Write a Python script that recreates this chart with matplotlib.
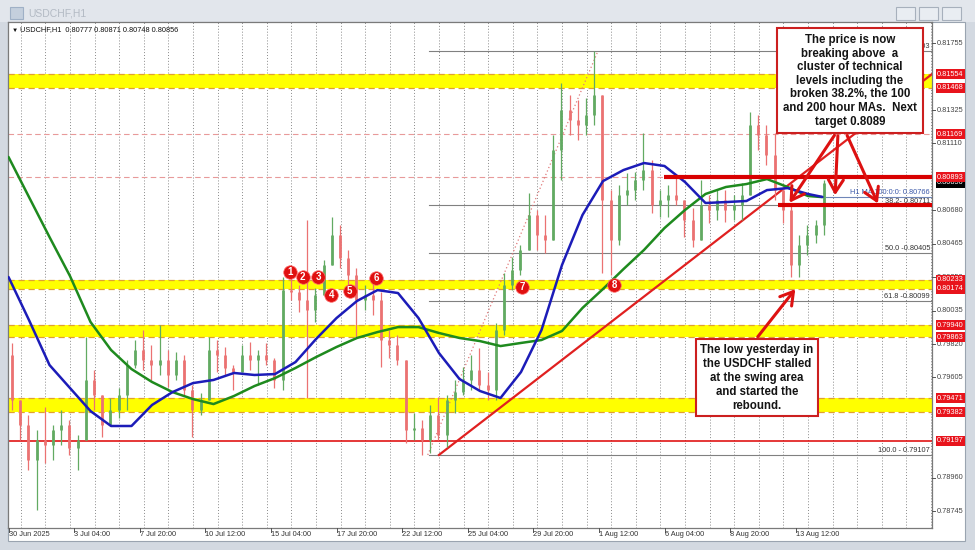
import matplotlib
matplotlib.use('Agg')
import matplotlib.pyplot as plt
from matplotlib.patches import Rectangle, FancyArrowPatch
import matplotlib.transforms as mtransforms
import numpy as np

plt.rcParams['font.family'] = ['Liberation Sans', 'DejaVu Sans']

W, H = 975, 550

# ---------------- data ----------------
symbol_line = "USDCHF,H1  0.80777 0.80871 0.80748 0.80856"
candle_hours = 8
open_first = 0.79749
highs = [0.79827, 0.79460, 0.79364, 0.79267, 0.79415, 0.79299, 0.79396, 0.79331, 0.79235, 0.79865,
         0.79653, 0.79460, 0.79473, 0.79537, 0.79717, 0.79846, 0.79910, 0.79814, 0.79942, 0.79782,
         0.79769, 0.79749, 0.79556, 0.79505, 0.79865, 0.79846, 0.79801, 0.79685, 0.79814, 0.79833,
         0.79782, 0.79827, 0.79730, 0.80251, 0.80245, 0.80199, 0.80617, 0.80180, 0.80360, 0.80637,
         0.80585, 0.80425, 0.80309, 0.80199, 0.80232, 0.80154, 0.79910, 0.79878, 0.79717, 0.79376,
         0.79331, 0.79428, 0.79479, 0.79492, 0.79589, 0.79672, 0.79749, 0.79794, 0.79640, 0.79955,
         0.80277, 0.80380, 0.80457, 0.80791, 0.80682, 0.80650, 0.81164, 0.81498, 0.81421, 0.81389,
         0.81402, 0.81703, 0.81421, 0.80810, 0.80842, 0.80920, 0.80926, 0.81177, 0.81003, 0.80810,
         0.80842, 0.80894, 0.80746, 0.80695, 0.80875, 0.80778, 0.80810, 0.80810, 0.80778, 0.80855,
         0.81312, 0.81293, 0.81228, 0.81177, 0.80842, 0.80714, 0.80521, 0.80585, 0.80617, 0.80875]
lows = [0.79396, 0.79203, 0.79010, 0.78753, 0.79055, 0.79074, 0.79171, 0.79106, 0.79010, 0.79203,
        0.79396, 0.79222, 0.79299, 0.79344, 0.79396, 0.79666, 0.79653, 0.79589, 0.79621, 0.79544,
        0.79589, 0.79492, 0.79222, 0.79364, 0.79460, 0.79640, 0.79621, 0.79524, 0.79640, 0.79653,
        0.79556, 0.79685, 0.79537, 0.79524, 0.80103, 0.80026, 0.79473, 0.79962, 0.80135, 0.80328,
        0.80309, 0.80199, 0.79865, 0.80039, 0.80007, 0.79672, 0.79730, 0.79685, 0.79184, 0.79203,
        0.79107, 0.79119, 0.79203, 0.79158, 0.79376, 0.79492, 0.79524, 0.79524, 0.79460, 0.79460,
        0.79878, 0.80167, 0.80264, 0.80425, 0.80425, 0.80405, 0.80489, 0.80875, 0.81164, 0.81132,
        0.81164, 0.81228, 0.80277, 0.80264, 0.80457, 0.80714, 0.80746, 0.80810, 0.80662, 0.80637,
        0.80637, 0.80714, 0.80508, 0.80444, 0.80489, 0.80598, 0.80617, 0.80605, 0.80617, 0.80617,
        0.80778, 0.81068, 0.80971, 0.80746, 0.80598, 0.80251, 0.80251, 0.80392, 0.80470, 0.80521]
closes = [0.79460, 0.79299, 0.79074, 0.79203, 0.79171, 0.79267, 0.79299, 0.79151, 0.79203, 0.79589,
          0.79492, 0.79299, 0.79396, 0.79492, 0.79685, 0.79782, 0.79717, 0.79685, 0.79717, 0.79621,
          0.79717, 0.79524, 0.79396, 0.79460, 0.79782, 0.79749, 0.79666, 0.79640, 0.79749, 0.79717,
          0.79749, 0.79717, 0.79589, 0.80167, 0.80154, 0.80103, 0.80039, 0.80135, 0.80328, 0.80521,
          0.80373, 0.80264, 0.80103, 0.80135, 0.80103, 0.79846, 0.79814, 0.79717, 0.79267, 0.79280,
          0.79203, 0.79364, 0.79235, 0.79460, 0.79511, 0.79589, 0.79653, 0.79556, 0.79524, 0.79910,
          0.80199, 0.80296, 0.80425, 0.80650, 0.80521, 0.80489, 0.81068, 0.81325, 0.81260, 0.81228,
          0.81293, 0.81421, 0.80746, 0.80489, 0.80778, 0.80810, 0.80875, 0.80939, 0.80714, 0.80746,
          0.80778, 0.80746, 0.80617, 0.80489, 0.80714, 0.80682, 0.80746, 0.80682, 0.80714, 0.80778,
          0.81228, 0.81164, 0.81035, 0.80810, 0.80682, 0.80328, 0.80457, 0.80521, 0.80585, 0.80856]

ma_index = [0, 20, 40, 60, 80, 100, 120, 140, 160, 180, 200, 220, 240, 260, 280, 300, 320, 340, 360, 380,
            400, 420, 440, 460, 480, 500, 520, 540, 560, 580, 600, 620, 640, 660, 680, 700, 720, 740, 760, 780, 794]
ma100 = [0.80251, 0.79974, 0.79685, 0.79537, 0.79389, 0.79293, 0.79293, 0.79428, 0.79511, 0.79569,
         0.79589, 0.79634, 0.79621, 0.79627, 0.79704, 0.79852, 0.79987, 0.80097, 0.80167, 0.80148,
         0.79987, 0.79762, 0.79595, 0.79518, 0.79473, 0.79640, 0.79910, 0.80328, 0.80650, 0.80868,
         0.80939, 0.80984, 0.80965, 0.80862, 0.80727, 0.80733, 0.80740, 0.80810, 0.80823, 0.80785, 0.80766]
ma200 = [0.81023, 0.80765, 0.80508, 0.80257, 0.79962, 0.79782, 0.79659, 0.79576, 0.79511, 0.79466,
         0.79434, 0.79486, 0.79550, 0.79601, 0.79666, 0.79736, 0.79801, 0.79859, 0.79897, 0.79929,
         0.79929, 0.79891, 0.79859, 0.79839, 0.79807, 0.79827, 0.79846, 0.79904, 0.80052, 0.80174,
         0.80302, 0.80425, 0.80566, 0.80682, 0.80785, 0.80830, 0.80849, 0.80881, 0.80830, 0.80772, 0.80765]

time_labels = ["30 Jun 2025", "3 Jul 04:00", "7 Jul 20:00", "10 Jul 12:00", "15 Jul 04:00",
               "17 Jul 20:00", "22 Jul 12:00", "25 Jul 04:00", "29 Jul 20:00", "1 Aug 12:00",
               "6 Aug 04:00", "8 Aug 20:00", "13 Aug 12:00"]
time_label_index = [0, 64, 128, 192, 256, 320, 384, 448, 512, 576, 640, 704, 768]

# price scale ticks that remain visible beside the red level labels
price_ticks = [0.78745, 0.78960, 0.79605, 0.79820, 0.80035, 0.80250,
               0.80465, 0.80680, 0.81110, 0.81325, 0.81755]

yellow_bands = [(0.81468, 0.81554), (0.80174, 0.80233), (0.79863, 0.79940), (0.79382, 0.79471)]
red_labels = [0.81554, 0.81468, 0.81169, 0.80893, 0.80233, 0.80174, 0.79940, 0.79863,
              0.79471, 0.79382, 0.79197]
support_line = 0.79197
dashed_levels = [0.81169, 0.80893]
current_price = 0.80856
ma100_last = 0.80766

fib_values = [0.81703, 0.80711, 0.80405, 0.80099, 0.79107]
fib_label_fmt = ["0.0 - {:.5f}", "38.2- {:.5f}", "50.0 -{:.5f}", "61.8 -{:.5f}", "100.0 - {:.5f}"]
fib_start_index = 410
fib_high_index = 575
fib_low_index = 409

trend_start = (420, 0.79107)
trend_end = (901, 0.81556)
thick_levels = [(640, 0.80893), (751, 0.80711)]

marker_nums = ["1", "2", "3", "4", "5", "6", "7", "8"]
marker_index = [275, 287, 302, 315, 333, 359, 501, 591]
marker_price = [0.80283, 0.80251, 0.80251, 0.80135, 0.80161, 0.80245, 0.80187, 0.80199]

box1_lines = ["The price is now", "breaking above  a", "cluster of technical",
              "levels including the", "broken 38.2%, the 100", "and 200 hour MAs.  Next",
              "target 0.8089"]
box2_lines = ["The low yesterday in", "the USDCHF stalled", "at the swing area",
              "and started the", "rebound."]

# ---------------- figure ----------------
fig = plt.figure(figsize=(W / 100, H / 100), dpi=100)
fig.patch.set_facecolor('#d3d9e1')


def F(X, Y):
    return (X / W, 1 - Y / H)


TF = fig.transFigure
SMALL = 5.3
fig.add_artist(Rectangle(F(0, 22), 1, 22 / H, transform=TF, fc='#e2e6ec', ec='none', zorder=-3))
fig.add_artist(Rectangle(F(8, 541), 957 / W, 519 / H, transform=TF, fc='white', ec='#9aa4b0', lw=0.8, zorder=-1))
fig.add_artist(Rectangle(F(10, 19), 13 / W, 12 / H, transform=TF, fc='#c4cfdd', ec='#9fb0c6', lw=0.8, zorder=-1))
fig.text(*F(28, 13), "USDCHF,H1", fontsize=7.5, color='#b3bac4', va='center', ha='left')
for bx in (896, 919, 942):
    fig.add_artist(Rectangle(F(bx, 20), 19 / W, 13 / H, transform=TF, fc='#e9edf2', ec='#a7b0bc', lw=0.8, zorder=-1))

ax = fig.add_axes([8 / W, 1 - 528 / H, 924 / W, 506 / H])
ax.set_xlim(-0.5, 901)
ax.set_ylim(0.78637, 0.81891)
ax.set_xticks([])
ax.set_yticks([])
for s in ax.spines.values():
    s.set_color('#7a7a7a')
    s.set_linewidth(0.9)

for i in range(12, 901, 24):
    ax.axvline(i, color='#8a8a8a', ls=(0, (1, 2)), lw=0.7, zorder=0.5)

for lo, hi in yellow_bands:
    ax.axhspan(lo, hi, color='#ffff00', zorder=1, lw=0)
    for v in (lo, hi):
        ax.axhline(v, color='#e0a030', ls=(0, (5, 3)), lw=0.9, zorder=1.1)

ax.axhline(support_line, color='#e01515', lw=1.2, zorder=1.2)
for v in dashed_levels:
    ax.axhline(v, color='#e89a9a', ls=(0, (5, 3)), lw=0.8, zorder=1.2)

for v in fib_values:
    ax.plot([fib_start_index, 901], [v, v], color='#808080', lw=0.8, zorder=1.3)
ax.plot([fib_low_index, fib_high_index], [fib_values[-1], fib_values[0]], color='#e07a7a',
        ls=(0, (1, 2)), lw=0.9, zorder=1.3)
ytr = mtransforms.blended_transform_factory(ax.transAxes, ax.transData)
for fmt, v in zip(fib_label_fmt, fib_values):
    ax.text((930 - 8) / 924, v + 0.00005, fmt.format(v), transform=ytr, ha='right', va='bottom',
            fontsize=SMALL, color='#333333', zorder=2)

ax.plot([trend_start[0], trend_end[0]], [trend_start[1], trend_end[1]], color='#e02020', lw=1.6, zorder=2)

# candles
opens = [open_first] + closes[:-1]
n = len(closes)
xs = np.arange(n) * candle_hours + (candle_hours - 1) / 2
up_c, dn_c = '#62aa62', '#eb7272'
cols = [up_c if c >= o else dn_c for o, c in zip(opens, closes)]
hi_ = [max(h, o, c) for h, o, c in zip(highs, opens, closes)]
lo_ = [min(l, o, c) for l, o, c in zip(lows, opens, closes)]
ax.vlines(xs, lo_, hi_, colors=cols, lw=0.9, zorder=3)
b_lo = [min(o, c) - 0.00002 for o, c in zip(opens, closes)]
b_hi = [max(o, c) + 0.00002 for o, c in zip(opens, closes)]
ax.vlines(xs, b_lo, b_hi, colors=cols, lw=2.0, zorder=3)

ax.plot(ma_index, ma200, color='#1e8a1e', lw=1.8, zorder=4, solid_capstyle='round')
ax.plot(ma_index, ma100, color='#1c1cb8', lw=1.8, zorder=4, solid_capstyle='round')
ax.plot([ma_index[-1] + 4, 900], [ma100_last, ma100_last], color='#6f86b8', lw=0.8, zorder=4)
ax.text((930 - 8) / 924, ma100_last + 0.00003, "H1 MA 100:0:0: {:.5f}".format(ma100_last), transform=ytr,
        ha='right', va='bottom', fontsize=SMALL, color='#3a58a8', zorder=4)

for start, v in thick_levels:
    ax.plot([start, 901], [v, v], color='#d80000', lw=3.0, zorder=5, solid_capstyle='butt')

ax.scatter(marker_index, marker_price, s=95, color='#e01010', zorder=6, edgecolors='#ff6b6b', linewidths=0.5)
for t, xi, pv in zip(marker_nums, marker_index, marker_price):
    ax.text(xi, pv, t, color='white', fontsize=7, fontweight='bold', ha='center', va='center', zorder=7)

fig.text(*F(12, 30), "\u25bc", fontsize=4.5, color='#111111', va='center', ha='left')
fig.text(*F(20, 30), symbol_line, fontsize=SMALL, color='#111111', va='center', ha='left')

for lab, i in zip(time_labels, time_label_index):
    X = 8 + 1.025 * (i + 0.5)
    fig.add_artist(plt.Line2D([X / W, X / W], [1 - 528 / H, 1 - 532 / H], transform=TF, color='#555555', lw=0.7))
    fig.text(*F(X, 535), lab, fontsize=SMALL, color='#333333', va='center', ha='left')

ylo, yhi = ax.get_ylim()


def price_to_Y(p):
    return 22 + (yhi - p) / (yhi - ylo) * 506


for p in price_ticks:
    Y = price_to_Y(p)
    fig.add_artist(plt.Line2D([932 / W, 935 / W], [1 - Y / H, 1 - Y / H], transform=TF, color='#555555', lw=0.7))
    fig.text(*F(937, Y), "{:.5f}".format(p), fontsize=SMALL, color='#444444', va='center', ha='left')

fig.text(*F(937, price_to_Y(current_price)), "{:.5f}".format(current_price), fontsize=SMALL, color='white',
         va='center', ha='left', bbox=dict(boxstyle='square,pad=0.2', fc='#000000', ec='none'))
for p in red_labels:
    fig.text(*F(937, price_to_Y(p)), "{:.5f}".format(p), fontsize=SMALL, color='white', va='center', ha='left',
             bbox=dict(boxstyle='square,pad=0.2', fc='#e8141c', ec='none'))

fig.add_artist(Rectangle(F(777, 133), 146 / W, 105 / H, transform=TF, fc='white', ec='#cc1f1f', lw=1.5, zorder=8))
for k, line in enumerate(box1_lines):
    fig.text(*F(850, 40 + 13.6 * k), line, fontsize=8.3, fontweight='bold', color='#141414',
             ha='center', va='center', zorder=9)
fig.add_artist(Rectangle(F(696, 416), 122 / W, 77 / H, transform=TF, fc='white', ec='#cc1f1f', lw=1.5, zorder=8))
for k, line in enumerate(box2_lines):
    fig.text(*F(757, 350 + 14 * k), line, fontsize=8.3, fontweight='bold', color='#141414',
             ha='center', va='center', zorder=9)

arrows = [((836, 133), (788, 205)), ((838, 133), (835, 198)), ((846, 133), (879, 206)),
          ((756, 339), (797, 287))]
for tail, tip in arrows:
    fig.add_artist(FancyArrowPatch(F(*tail), F(*tip), transform=TF, arrowstyle='->,head_length=0.5,head_width=0.3',
                                   mutation_scale=18, color='#dd1111', lw=2.2, zorder=7.5))

fig.savefig('out.png', dpi=100, facecolor=fig.get_facecolor())
